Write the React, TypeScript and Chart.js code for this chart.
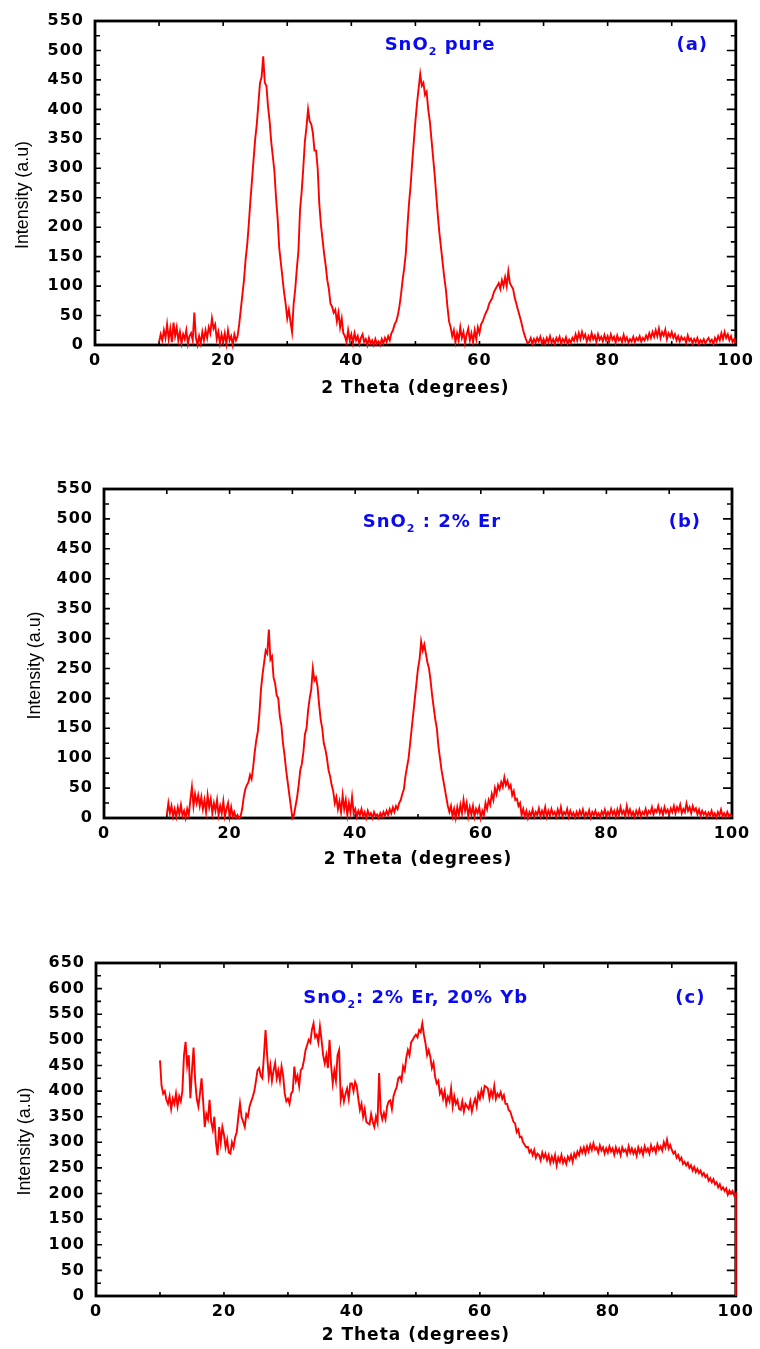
import { useEffect, useRef } from "react";
import { Chart, registerables } from "chart.js";

Chart.register(...registerables);

// ---- sampling grid (2θ, degrees) ----
const THETA_START = 10;
const THETA_STEP = 0.25;
const X_MIN = 0;
const X_MAX = 100;
const X_LABEL_STEP = 20;
const X_MINOR_STEP = 10;
const Y_LABEL_STEP = 50;
const Y_MINOR_STEP = 25;
const Y_MAX_A = 550;
const Y_MAX_B = 550;
const Y_MAX_C = 650;

// ---- (a) SnO2 pure : intensity every 0.25° from 10° to 100° ----
const INTENSITY_A = [
  5, 18, 8, 25, 12, 35, 10, 28, 5, 38, 15, 30, 8, 22, 3, 18, 10, 25, 2, 15,
  20, 8, 55, 12, 0, 15, 3, 22, 8, 25, 12, 30, 20, 45, 28, 35, 10, 22, 3, 18,
  5, 20, 2, 25, 8, 15, 0, 18, 8, 15, 35, 60, 85, 110, 145, 170, 205, 245, 280, 315,
  350, 375, 410, 445, 455, 490, 445, 440, 405, 380, 345, 320, 295, 250, 215, 165, 140, 115, 90, 70,
  45, 60, 40, 22, 70, 95, 130, 160, 230, 260, 300, 345, 370, 400, 380, 375, 360, 330, 330, 300,
  240, 205, 180, 155, 135, 110, 95, 70, 65, 55, 60, 40, 55, 30, 45, 20, 15, 5, 25, 8,
  18, 3, 20, 8, 15, 2, 12, 18, 5, 10, 0, 12, 3, 8, 0, 10, 2, 6, 0, 10,
  3, 12, 5, 15, 8, 20, 25, 35, 40, 50, 65, 85, 110, 130, 155, 200, 240, 270, 310, 345,
  380, 410, 435, 460, 440, 445, 425, 430, 400, 380, 350, 320, 290, 255, 220, 190, 165, 140, 115, 95,
  65, 40, 30, 15, 25, 5, 20, 8, 30, 12, 22, 3, 18, 28, 8, 20, 5, 25, 10, 30,
  20, 35, 40, 48, 55, 60, 70, 75, 80, 90, 95, 100, 105, 95, 110, 100, 115, 100, 125, 105,
  100, 95, 80, 70, 60, 50, 40, 28, 18, 10, 3, 5, 12, 2, 10, 4, 12, 6, 14, 3,
  10, 2, 12, 5, 15, 4, 10, 2, 12, 6, 14, 3, 10, 5, 13, 2, 9, 4, 12, 7,
  18, 8, 20, 10, 22, 12, 18, 6, 15, 8, 20, 10, 16, 5, 18, 9, 14, 6, 17, 8,
  15, 6, 18, 9, 14, 4, 16, 8, 12, 5, 17, 7, 13, 4, 10, 6, 14, 5, 12, 8,
  15, 6, 12, 8, 16, 10, 20, 12, 22, 14, 25, 15, 28, 12, 22, 16, 26, 10, 20, 14,
  22, 12, 18, 8, 15, 6, 14, 9, 12, 4, 16, 7, 11, 3, 10, 5, 12, 2, 8, 4,
  10, 3, 8, 12, 5, 9, 2, 12, 6, 15, 8, 20, 10, 22, 12, 18, 8, 15, 5, 10,
  3,
];

// ---- (b) SnO2 : 2% Er ----
const INTENSITY_B = [
  5, 25, 8, 20, 3, 15, 2, 18, 6, 22, 4, 12, 0, 15, 5, 30, 52, 20, 40, 25,
  38, 20, 35, 15, 30, 10, 38, 18, 32, 8, 25, 12, 30, 5, 20, 8, 28, 3, 15, 25,
  2, 18, 3, 10, 0, 5, 0, 3, 15, 35, 48, 55, 60, 72, 65, 85, 110, 130, 145, 175,
  215, 240, 260, 280, 275, 315, 265, 270, 235, 225, 205, 200, 170, 155, 125, 105, 80, 60, 40, 20,
  0, 5, 20, 35, 55, 80, 90, 110, 140, 150, 180, 200, 215, 250, 230, 235, 220, 190, 165, 150,
  125, 115, 100, 80, 70, 55, 45, 25, 35, 15, 28, 10, 38, 15, 30, 5, 25, 10, 35, 8,
  15, 2, 12, 5, 15, 3, 10, 0, 12, 4, 8, 0, 10, 3, 6, 0, 8, 2, 10, 4,
  12, 5, 15, 8, 18, 10, 20, 15, 25, 30, 40, 48, 70, 85, 100, 125, 150, 175, 200, 225,
  250, 265, 295, 280, 290, 275, 260, 250, 230, 205, 185, 165, 150, 120, 100, 80, 65, 50, 35, 20,
  10, 20, 3, 15, 0, 18, 5, 22, 8, 30, 12, 25, 3, 18, 6, 20, 2, 15, 8, 18,
  0, 12, 5, 25, 15, 30, 22, 40, 30, 50, 40, 55, 48, 60, 52, 68, 55, 62, 50, 55,
  38, 45, 30, 32, 20, 25, 5, 15, 3, 12, 0, 10, 4, 14, 2, 10, 5, 16, 3, 12,
  5, 18, 2, 12, 4, 15, 6, 10, 2, 14, 5, 18, 3, 10, 6, 15, 2, 12, 4, 9,
  1, 10, 3, 12, 5, 14, 2, 9, 4, 13, 1, 10, 5, 12, 3, 8, 2, 11, 5, 14,
  3, 10, 4, 15, 6, 12, 2, 14, 5, 18, 7, 12, 3, 20, 6, 14, 4, 10, 2, 12,
  5, 14, 3, 10, 6, 15, 4, 12, 8, 18, 6, 14, 10, 20, 8, 15, 5, 18, 9, 14,
  6, 16, 10, 20, 8, 18, 12, 22, 8, 15, 10, 24, 12, 18, 8, 20, 12, 16, 6, 14,
  4, 12, 6, 10, 2, 9, 4, 12, 3, 8, 1, 10, 4, 14, 3, 8, 2, 10, 3, 6,
  2,
];

// ---- (c) SnO2 : 2% Er, 20% Yb ----
const INTENSITY_C = [
  460, 410, 395, 400, 383, 375, 390, 365, 385, 375, 395, 370, 390, 380, 400, 470, 496, 450, 470, 386,
  440, 485, 420, 385, 370, 395, 425, 380, 330, 355, 345, 383, 340, 325, 350, 300, 275, 330, 300, 330,
  315, 290, 305, 280, 278, 300, 290, 310, 320, 350, 376, 350, 340, 330, 355, 350, 370, 380, 389, 400,
  420, 441, 445, 430, 425, 470, 519, 470, 428, 450, 420, 440, 455, 425, 440, 420, 448, 430, 395, 380,
  385, 375, 395, 400, 448, 420, 430, 410, 441, 445, 460, 480, 490, 500, 495, 520, 532, 505, 510, 495,
  526, 500, 470, 454, 470, 445, 500, 450, 415, 440, 420, 470, 480, 383, 400, 380, 395, 405, 385, 415,
  415, 400, 418, 410, 385, 363, 375, 350, 365, 340, 337, 335, 355, 340, 330, 350, 338, 435, 360, 345,
  357, 345, 370, 380, 382, 365, 390, 400, 408, 425, 428, 420, 448, 440, 465, 480, 470, 495, 500, 506,
  510, 505, 519, 515, 532, 510, 493, 470, 480, 467, 445, 455, 428, 415, 420, 395, 402, 385, 400, 375,
  389, 380, 405, 370, 390, 375, 382, 365, 363, 380, 360, 375, 370, 365, 380, 360, 375, 385, 370, 395,
  385, 402, 390, 410, 408, 405, 385, 400, 389, 410, 385, 395, 389, 398, 385, 392, 375, 375, 363, 360,
  350, 340, 337, 320, 325, 310, 311, 300, 295, 290, 291, 280, 285, 275, 285, 270, 278, 275, 265, 280,
  270, 278, 265, 275, 260, 272, 262, 275, 255, 270, 262, 275, 260, 268, 258, 272, 265, 275, 262, 278,
  270, 282, 275, 288, 280, 290, 278, 292, 282, 295, 285, 298, 286, 290, 280, 294, 284, 290, 278, 288,
  280, 292, 282, 288, 276, 290, 280, 287, 275, 290, 282, 286, 276, 292, 280, 288, 278, 286, 274, 290,
  280, 288, 276, 292, 282, 288, 278, 294, 284, 290, 280, 296, 286, 292, 284, 300, 290, 305, 288, 295,
  285, 278, 282, 270, 275, 265, 270, 258, 262, 255, 260, 250, 255, 245, 252, 242, 248, 240, 245, 235,
  240, 232, 236, 225, 230, 222, 228, 218, 222, 212, 218, 208, 212, 205, 210, 198, 206, 200, 205, 196,
  200,
];
// final vertical drop of trace (c) at 2θ = 100°
const INTENSITY_C_TAIL = [0];

// ---- texts ----
const X_TITLE = "2 Theta (degrees)";
const Y_TITLE = "Intensity (a.u)";
const SAMPLE_A = ["SnO", "2", " pure"];
const SAMPLE_B = ["SnO", "2", " : 2% Er"];
const SAMPLE_C = ["SnO", "2", ": 2% Er, 20% Yb"];
const TAG_A = "(a)";
const TAG_B = "(b)";
const TAG_C = "(c)";

const LINE_RED = "#ff0000";
const LABEL_BLUE = "#0a0af0";
const FONT_FAMILY = '"DejaVu Sans", Verdana, Arial, sans-serif';
const TITLE_FAMILY = '"Liberation Sans", Arial, sans-serif';
const X_AXIS_H = 54;

type PanelProps = {
  values: number[];
  tail?: number[];
  yMax: number;
  sample: string[];
  tag: string;
  top: number;
  height: number;
  plotLeft: number;
  plotRight: number;
  plotTop: number;
  plotBottom: number;
  yTitleX: number;
  titlePad: number;
  sampleAt: [number, number];
  tagAt: [number, number];
};

function Panel(p: PanelProps) {
  const ref = useRef<HTMLCanvasElement | null>(null);

  useEffect(() => {
    const canvas = ref.current;
    if (!canvas) return;

    const pts = p.values.map((v, i) => ({ x: THETA_START + i * THETA_STEP, y: v }));
    (p.tail || []).forEach((v) => pts.push({ x: X_MAX, y: v }));

    const spacing = {
      id: "spacing",
      beforeUpdate(chart: any) {
        chart.ctx.letterSpacing = "1px";
      },
      beforeDraw(chart: any) {
        chart.ctx.letterSpacing = "1px";
      },
    };

    const frame = {
      id: "frame",
      beforeDatasetsDraw(chart: any) {
        const { ctx, chartArea: a, scales } = chart;
        const xs = scales.x;
        const ys = scales.y;
        ctx.save();
        ctx.strokeStyle = "#000";
        ctx.lineWidth = 1.6;
        for (let v = X_MIN; v <= X_MAX; v += X_MINOR_STEP) {
          const px = xs.getPixelForValue(v);
          ctx.beginPath();
          ctx.moveTo(px, a.top);
          ctx.lineTo(px, a.top + 5);
          ctx.moveTo(px, a.bottom);
          ctx.lineTo(px, a.bottom - 4);
          ctx.stroke();
        }
        for (let v = 0; v <= p.yMax; v += Y_MINOR_STEP) {
          const py = ys.getPixelForValue(v);
          const major = v % Y_LABEL_STEP === 0;
          ctx.beginPath();
          ctx.moveTo(a.left, py);
          ctx.lineTo(a.left + (major ? 6 : 5), py);
          ctx.moveTo(a.right, py);
          ctx.lineTo(a.right - (major ? 9 : 5), py);
          ctx.stroke();
        }
        ctx.lineWidth = 2.8;
        ctx.strokeRect(a.left, a.top, a.right - a.left, a.bottom - a.top);
        ctx.restore();
      },
    };

    const texts = {
      id: "texts",
      afterDraw(chart: any) {
        const { ctx, chartArea: a, scales } = chart;
        const xs = scales.x;
        const ys = scales.y;
        ctx.save();
        // y-axis title (narrow sans)
        ctx.letterSpacing = "0px";
        ctx.font = `19px ${TITLE_FAMILY}`;
        const w = ctx.measureText(Y_TITLE).width;
        const squeeze = Math.min(1, 108 / w);
        ctx.fillStyle = "#000";
        ctx.translate(p.yTitleX, (a.top + a.bottom) / 2 + 12);
        ctx.rotate(-Math.PI / 2);
        ctx.scale(squeeze, 1);
        ctx.textAlign = "center";
        ctx.textBaseline = "middle";
        ctx.fillText(Y_TITLE, 0, 0);
        ctx.restore();

        // sample label with subscript
        ctx.save();
        ctx.letterSpacing = "1px";
        ctx.fillStyle = LABEL_BLUE;
        ctx.textBaseline = "middle";
        ctx.textAlign = "left";
        let cx = xs.getPixelForValue(p.sampleAt[0]);
        const cy = ys.getPixelForValue(p.sampleAt[1]);
        const big = `bold 18px ${FONT_FAMILY}`;
        const small = `bold 11px ${FONT_FAMILY}`;
        ctx.font = big;
        ctx.fillText(p.sample[0], cx, cy);
        cx += ctx.measureText(p.sample[0]).width;
        ctx.font = small;
        ctx.fillText(p.sample[1], cx, cy + 7);
        cx += ctx.measureText(p.sample[1]).width;
        ctx.font = big;
        ctx.fillText(p.sample[2], cx, cy);
        // panel tag
        ctx.textAlign = "center";
        ctx.fillText(p.tag, xs.getPixelForValue(p.tagAt[0]), ys.getPixelForValue(p.tagAt[1]));
        ctx.restore();
      },
    };

    const chart = new Chart(canvas, {
      type: "line",
      data: {
        datasets: [
          {
            data: pts,
            borderColor: LINE_RED,
            borderWidth: 1.9,
            pointRadius: 0,
            tension: 0,
            fill: false,
            clip: false,
          } as any,
        ],
      },
      options: {
        animation: false,
        responsive: false,
        events: [],
        layout: {
          padding: {
            left: 0,
            right: 760 - p.plotRight,
            top: p.plotTop - p.top,
            bottom: p.top + p.height - p.plotBottom - X_AXIS_H,
          },
        },
        plugins: {
          legend: { display: false },
          tooltip: { enabled: false },
          title: { display: false },
        },
        scales: {
          x: {
            type: "linear",
            min: X_MIN,
            max: X_MAX,
            grid: { display: false, drawTicks: false },
            border: { display: false },
            ticks: {
              stepSize: X_LABEL_STEP,
              autoSkip: false,
              maxRotation: 0,
              padding: 6,
              color: "#000",
              font: { family: FONT_FAMILY, size: 16, weight: "bold" },
            },
            title: {
              display: true,
              text: X_TITLE,
              color: "#000",
              font: { family: FONT_FAMILY, size: 17, weight: "bold" },
              padding: { top: 0, bottom: p.titlePad },
            },
            afterFit: (s: any) => {
              s.height = X_AXIS_H;
            },
          },
          y: {
            type: "linear",
            min: 0,
            max: p.yMax,
            grid: { display: false, drawTicks: false },
            border: { display: false },
            ticks: {
              stepSize: Y_LABEL_STEP,
              autoSkip: false,
              padding: 11,
              color: "#000",
              font: { family: FONT_FAMILY, size: 16, weight: "bold" },
            },
            afterFit: (s: any) => {
              s.width = p.plotLeft;
            },
          },
        },
      } as any,
      plugins: [spacing, frame, texts],
    });

    return () => chart.destroy();
  }, []);

  return (
    <canvas
      ref={ref}
      width={760}
      height={p.height}
      style={{ position: "absolute", left: 0, top: p.top, width: 760, height: p.height, display: "block" }}
    />
  );
}

export default function App() {
  useEffect(() => {
    document.body.style.margin = "0";
  }, []);
  return (
    <div style={{ position: "relative", width: 760, height: 1349, background: "#fff", overflow: "hidden" }}>
      <Panel
        values={INTENSITY_A}
        yMax={Y_MAX_A}
        sample={SAMPLE_A}
        tag={TAG_A}
        top={0}
        height={410}
        plotLeft={95}
        plotRight={741}
        plotTop={21}
        plotBottom={345}
        yTitleX={23}
        titlePad={0}
        sampleAt={[45.2, 509]}
        tagAt={[93.2, 509]}
      />
      <Panel
        values={INTENSITY_B}
        yMax={Y_MAX_B}
        sample={SAMPLE_B}
        tag={TAG_B}
        top={440}
        height={440}
        plotLeft={104}
        plotRight={732}
        plotTop={489}
        plotBottom={818}
        yTitleX={35}
        titlePad={2}
        sampleAt={[41.2, 495]}
        tagAt={[92.5, 495]}
      />
      <Panel
        values={INTENSITY_C}
        tail={INTENSITY_C_TAIL}
        yMax={Y_MAX_C}
        sample={SAMPLE_C}
        tag={TAG_C}
        top={905}
        height={450}
        plotLeft={96}
        plotRight={741}
        plotTop={963}
        plotBottom={1296}
        yTitleX={25}
        titlePad={4}
        sampleAt={[32.4, 582]}
        tagAt={[92.9, 582]}
      />
    </div>
  );
}
